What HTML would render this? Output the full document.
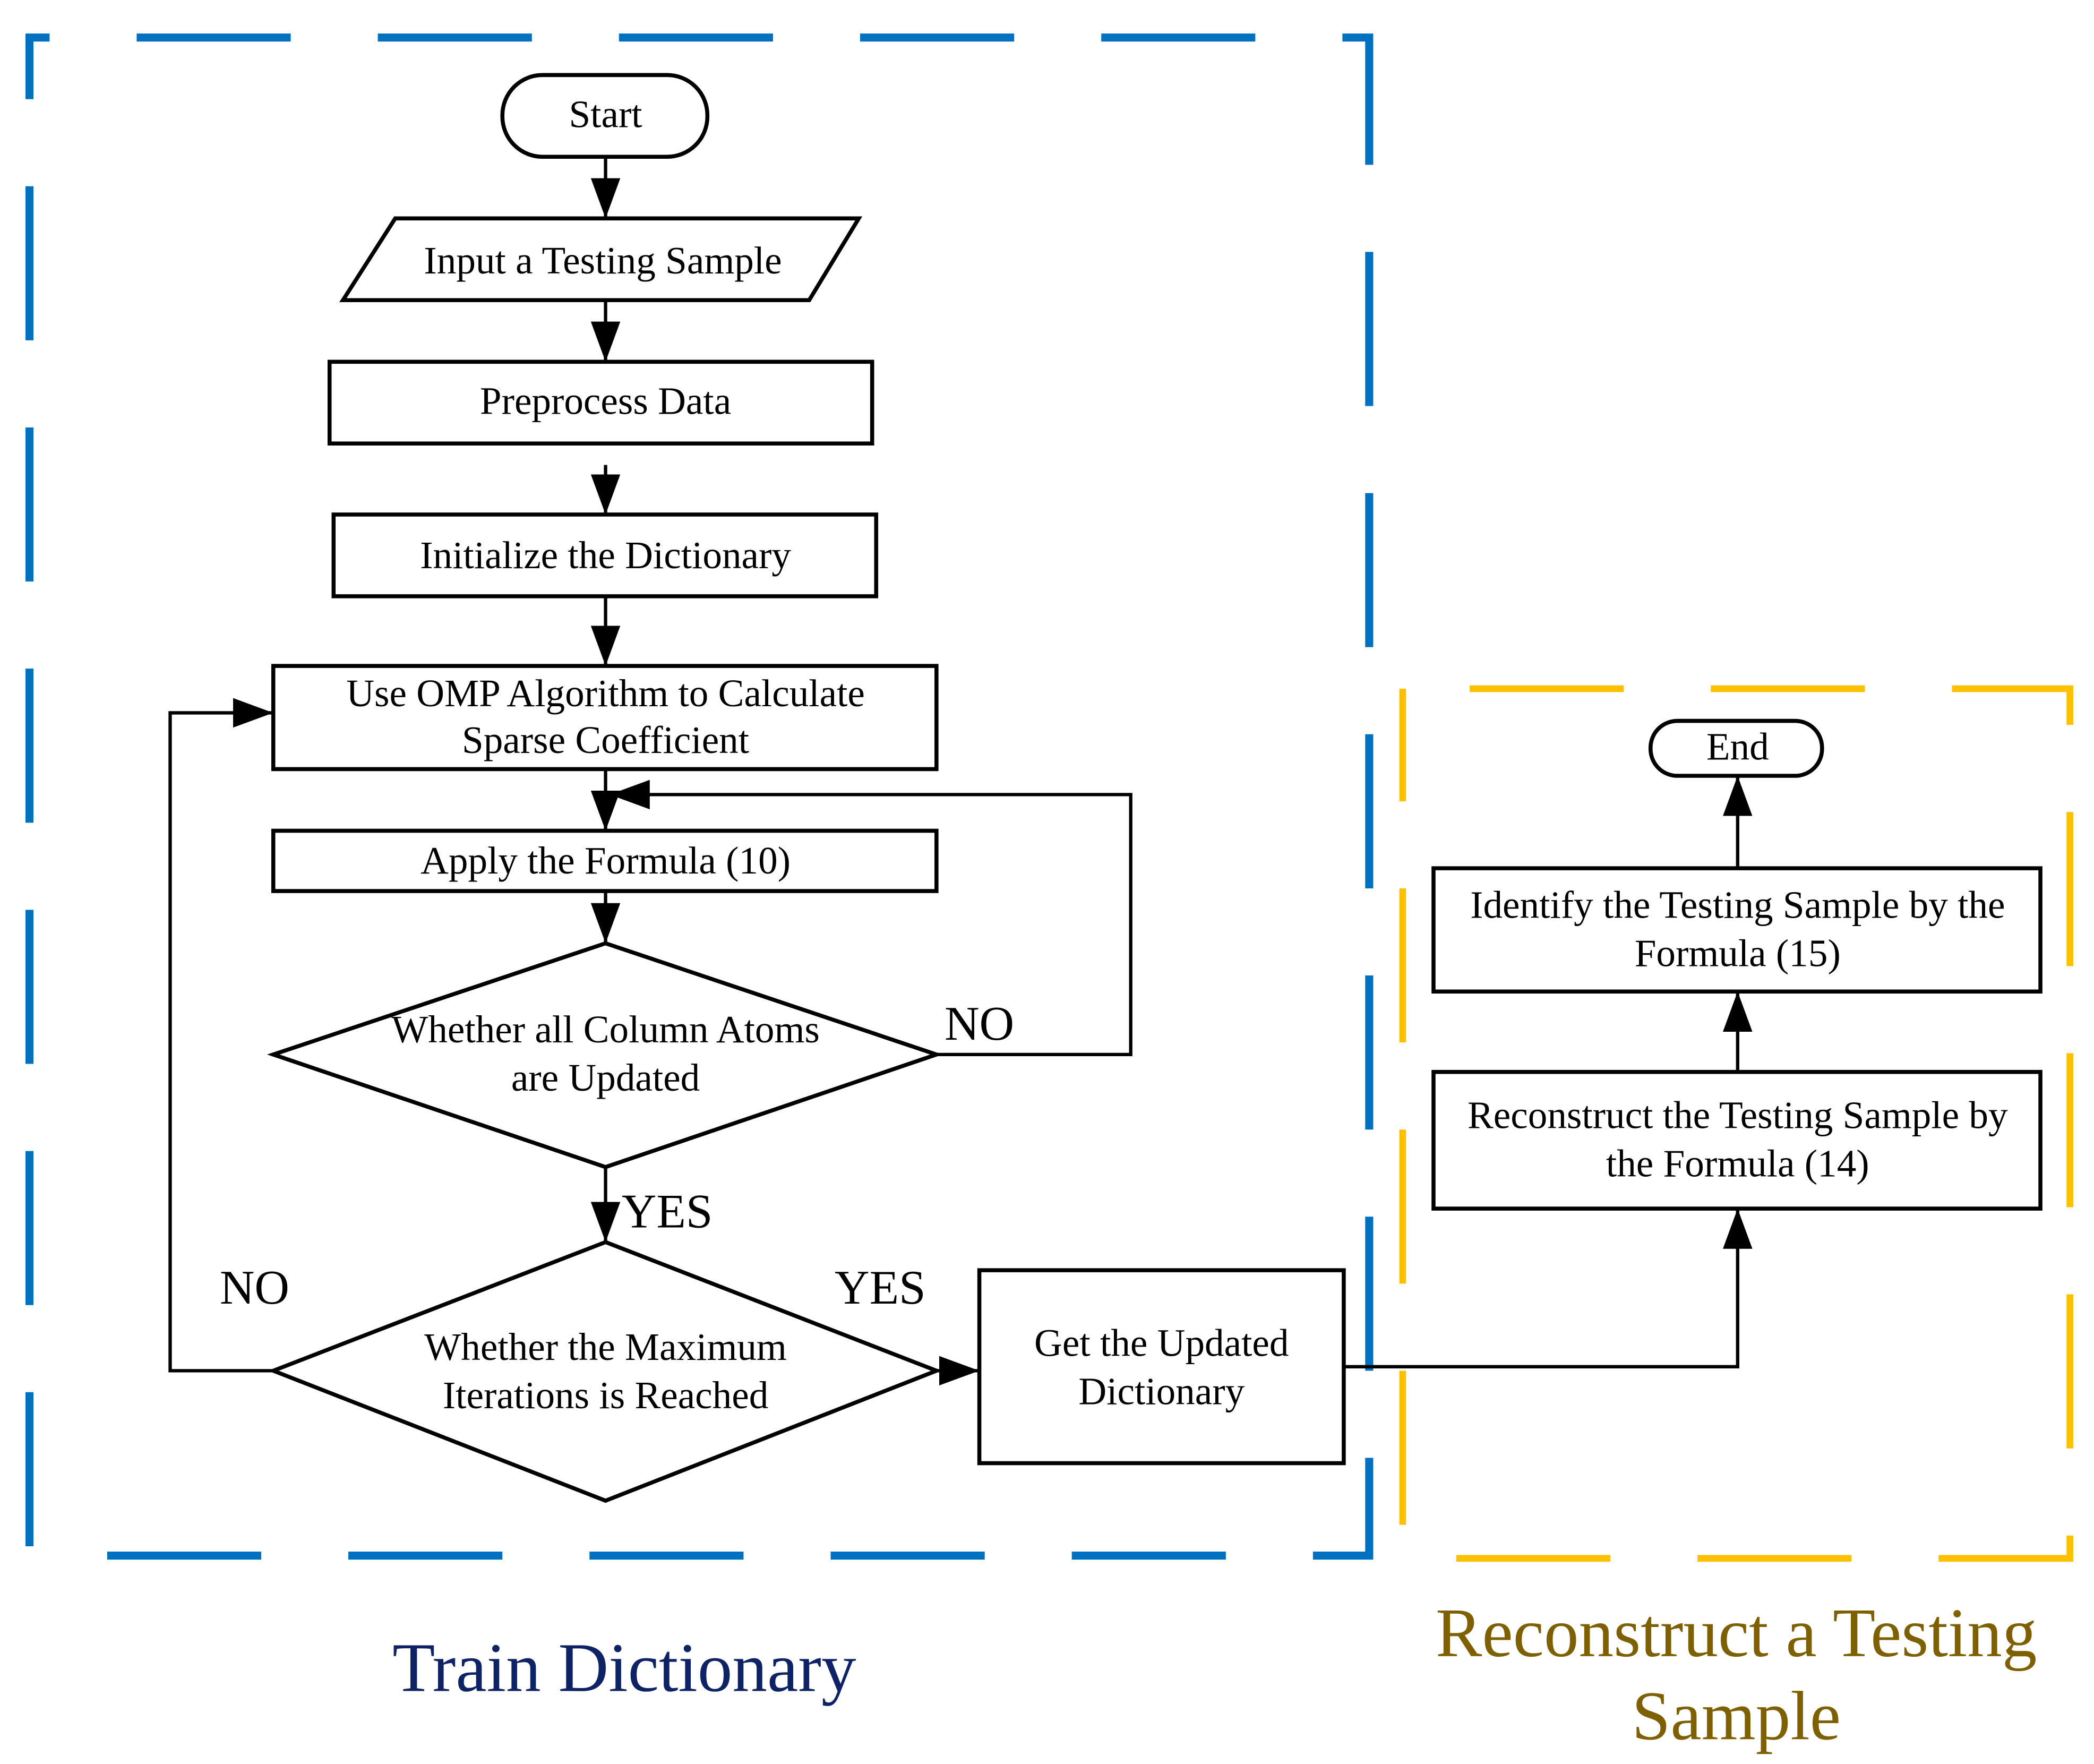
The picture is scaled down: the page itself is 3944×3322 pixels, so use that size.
<!DOCTYPE html>
<html><head><meta charset="utf-8"><style>
html,body{margin:0;padding:0;background:#fff;}
svg{display:block;}
text{font-family:"Liberation Serif",serif;}
</style></head><body>
<svg width="3944" height="3322" viewBox="0 0 1563 1316.5" xmlns="http://www.w3.org/2000/svg">
<defs>
<marker id="b" viewBox="0 0 10 10" refX="10" refY="5" markerWidth="30" markerHeight="22" orient="auto" markerUnits="userSpaceOnUse" preserveAspectRatio="none">
<path d="M0,0 L10,5 L0,10 z" fill="#000"/>
</marker>
</defs>
<rect width="1563" height="1317" fill="#fff"/>
<rect x="22" y="28" width="1000" height="1133" fill="none" stroke="#0070c0" stroke-width="6" stroke-dasharray="115 65" stroke-dashoffset="-80"/>
<rect x="1047" y="514" width="498" height="649" fill="none" stroke="#ffc000" stroke-width="5" stroke-dasharray="115 65" stroke-dashoffset="-50"/>
<g fill="none" stroke="#000" stroke-width="3">
<rect x="375" y="56" width="153" height="61" rx="30"/>
<polygon points="295,163 641,163 604,224 256,224"/>
<rect x="246" y="270" width="405" height="61"/>
<rect x="249" y="384" width="405" height="61"/>
<rect x="204" y="497" width="495" height="77"/>
<rect x="204" y="620" width="495" height="45"/>
<polygon points="452,704 699,787 452,871 204,787"/>
<polygon points="452,927 699,1023 452,1120 204,1023"/>
<rect x="731" y="948" width="272" height="144"/>
<rect x="1232" y="538" width="128" height="41" rx="20"/>
<rect x="1070" y="648" width="453" height="92"/>
<rect x="1070" y="800" width="453" height="102"/>
</g>
<g fill="none" stroke="#000" stroke-width="2.5" marker-end="url(#b)">
<line x1="452" y1="117" x2="452" y2="163"/>
<line x1="452" y1="224" x2="452" y2="270"/>
<line x1="452" y1="347" x2="452" y2="384"/>
<line x1="452" y1="445" x2="452" y2="497"/>
<line x1="452" y1="574" x2="452" y2="620"/>
<line x1="452" y1="665" x2="452" y2="704"/>
<line x1="452" y1="871" x2="452" y2="927"/>
<polyline points="699,787 844,787 844,593 455,593"/>
<polyline points="204,1023 127,1023 127,532 204,532"/>
<line x1="699" y1="1023" x2="731" y2="1023"/>
<polyline points="1003,1020 1297,1020 1297,902"/>
<line x1="1297" y1="800" x2="1297" y2="740"/>
<line x1="1297" y1="648" x2="1297" y2="579"/>
</g>
<g font-size="29" text-anchor="middle" fill="#000">
<text x="452" y="95">Start</text>
<text x="450" y="204">Input a Testing Sample</text>
<text x="452" y="309">Preprocess Data</text>
<text x="452" y="424">Initialize the Dictionary</text>
<text x="452" y="527">Use OMP Algorithm to Calculate</text>
<text x="452" y="562">Sparse Coefficient</text>
<text x="452" y="652">Apply the Formula (10)</text>
<text x="452" y="778">Whether all Column Atoms</text>
<text x="452" y="814">are Updated</text>
<text x="452" y="1015">Whether the Maximum</text>
<text x="452" y="1051">Iterations is Reached</text>
<text x="867" y="1012">Get the Updated</text>
<text x="867" y="1048">Dictionary</text>
<text x="1297" y="567">End</text>
<text x="1297" y="685">Identify the Testing Sample by the</text>
<text x="1297" y="721">Formula (15)</text>
<text x="1297" y="842">Reconstruct the Testing Sample by</text>
<text x="1297" y="878">the Formula (14)</text>
</g>
<g font-size="36" text-anchor="middle" fill="#000">
<text x="731" y="776">NO</text>
<text x="498" y="916">YES</text>
<text x="190" y="973">NO</text>
<text x="657" y="973">YES</text>
</g>
<text x="466" y="1262" font-size="52" text-anchor="middle" fill="#0e2366">Train Dictionary</text>
<text x="1296" y="1236" font-size="52" text-anchor="middle" fill="#7f6000">Reconstruct a Testing</text>
<text x="1296" y="1298" font-size="52" text-anchor="middle" fill="#7f6000">Sample</text>
</svg>
</body></html>
